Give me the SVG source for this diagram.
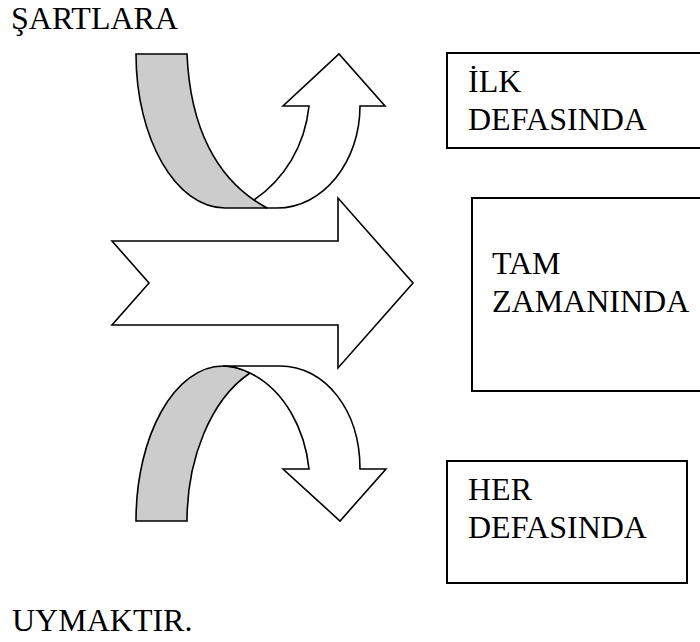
<svg xmlns="http://www.w3.org/2000/svg" width="700" height="642" viewBox="0 0 700 642">
<style>
.t{font-family:"Liberation Serif","Times New Roman",serif;font-size:32px;fill:#000}
.box{fill:#fff;stroke:#000;stroke-width:2}
.w{fill:#fff;stroke:#000;stroke-width:1.6;stroke-linejoin:miter}
.g{fill:#cccccc;stroke:#000;stroke-width:1.6}
</style>
<rect width="700" height="642" fill="#fff"/>
<text class="t" x="11" y="29">ŞARTLARA</text>
<text class="t" x="12" y="631">UYMAKTIR.</text>
<g id="connectors">
<g id="arrow-top">
<path class="w" d="M251,202 C285,180 305,145 309,106 L283,106 L339,54 L385,106 L360,106 C360,162 323,208 277,208 L267,208 Z"/>
<path class="g" d="M136,54 H187 C190,125 215,180 267,208 H225 C176,208 136,139 136,54 Z"/>
</g>
<g id="arrow-main">
<path class="w" d="M112,241 H338 V198 L413,283 L338,368 V325 H112 L149,283 Z"/>
</g>
<g id="arrow-bottom">
<path class="g" d="M136,521 H187 C187,460 210,400 250,373 C240,368 232,366 223,366 C175,366 136,435 136,521 Z"/>
<path class="w" d="M223,366 H280 C325,366 360,410 360,469 L386,469 L340,521 L283,469 L309,469 C305,430 285,390 250,373 C240,368 232,366 223,366 Z"/>
</g>
</g>
<g id="node-ilk">
<rect class="box" x="447" y="53" width="263" height="95"/>
<text class="t" x="468" y="92">İLK</text>
<text class="t" x="468" y="130">DEFASINDA</text>
</g>
<g id="node-tam">
<rect class="box" x="472" y="198" width="238" height="193"/>
<text class="t" x="492" y="274">TAM</text>
<text class="t" x="492" y="312">ZAMANINDA</text>
</g>
<g id="node-her">
<rect class="box" x="447" y="461" width="240" height="122"/>
<text class="t" x="468" y="500">HER</text>
<text class="t" x="468" y="538">DEFASINDA</text>
</g>
</svg>
